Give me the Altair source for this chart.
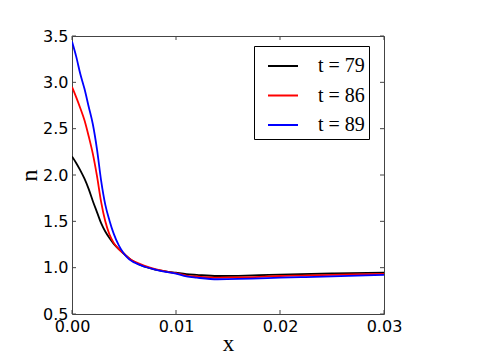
import altair as alt
import pandas as pd

# ---- data ----
x_79 = [0.0000, 0.0004, 0.0008, 0.0012, 0.0016, 0.0020, 0.0024, 0.0028, 0.0032, 0.0036,
        0.0040, 0.0045, 0.0050, 0.0055, 0.0060, 0.0070, 0.0080, 0.0090, 0.0100, 0.0110,
        0.0120, 0.0140, 0.0160, 0.0180, 0.0200, 0.0220, 0.0250, 0.0300]
n_79 = [2.20, 2.13, 2.05, 1.96, 1.85, 1.72, 1.60, 1.48, 1.39, 1.32,
        1.26, 1.20, 1.15, 1.10, 1.06, 1.01, 0.98, 0.96, 0.945, 0.93,
        0.922, 0.91, 0.912, 0.918, 0.925, 0.93, 0.937, 0.947]

x_86 = x_79
n_86 = [2.95, 2.84, 2.72, 2.59, 2.42, 2.23, 1.99, 1.71, 1.50, 1.36,
        1.27, 1.20, 1.15, 1.10, 1.065, 1.02, 0.985, 0.96, 0.94, 0.915,
        0.905, 0.893, 0.895, 0.90, 0.91, 0.915, 0.922, 0.933]

x_89 = x_79
n_89 = [3.44, 3.28, 3.09, 2.93, 2.74, 2.55, 2.28, 1.94, 1.68, 1.51,
        1.37, 1.24, 1.15, 1.09, 1.055, 1.01, 0.98, 0.955, 0.935, 0.905,
        0.892, 0.875, 0.878, 0.885, 0.892, 0.897, 0.905, 0.922]

series_names = ["t = 79", "t = 86", "t = 89"]
series_colors = ["black", "red", "blue"]

x_ticks = [0.0, 0.01, 0.02, 0.03]
y_ticks = [0.5, 1.0, 1.5, 2.0, 2.5, 3.0, 3.5]

W, H = 312, 278

rows = []
for name, xs, ns in zip(series_names, [x_79, x_86, x_89], [n_79, n_86, n_89]):
    for i, (xv, nv) in enumerate(zip(xs, ns)):
        rows.append({"series": name, "x": xv, "n": nv, "order": i})
df = pd.DataFrame(rows)

xscale = alt.Scale(domain=[0, 0.03], nice=False, zero=False)
yscale = alt.Scale(domain=[0.5, 3.5], nice=False, zero=False)

xaxis = alt.Axis(values=x_ticks, format=".2f", title="x", ticks=False, domain=False,
                 grid=False, labelFont="DejaVu Sans", labelFontSize=16, labelFlush=False,
                 labelColor="black", labelPadding=4,
                 titleFont="Liberation Serif", titleFontSize=23,
                 titleFontWeight="normal", titleColor="black",
                 titleBaseline="alphabetic", titleY=36)
yaxis = alt.Axis(values=y_ticks, format=".1f", title="n", ticks=False, domain=False,
                 grid=False, labelFont="DejaVu Sans", labelFontSize=16, labelFlush=False,
                 labelColor="black", labelPadding=4,
                 titleFont="Liberation Serif", titleFontSize=24,
                 titleFontWeight="normal", titleColor="black", titlePadding=1)

lines = alt.Chart(df).mark_line(strokeWidth=1.8, interpolate="monotone", clip=True).encode(
    x=alt.X("x:Q", scale=xscale, axis=xaxis, title="x"),
    y=alt.Y("n:Q", scale=yscale, axis=yaxis, title="n"),
    color=alt.Color("series:N", scale=alt.Scale(domain=series_names, range=series_colors),
                    legend=alt.Legend(title=None, orient="none", legendX=182, legendY=10,
                                      symbolType="stroke", symbolSize=900,
                                      symbolStrokeWidth=2, symbolOffset=9,
                                      labelFont="Liberation Serif",
                                      labelFontSize=20, labelColor="black", labelOffset=19,
                                      labelExpr="datum.label + '    '",
                                      rowPadding=3.5, padding=4, strokeColor="black",
                                      fillColor="white")),
    order="order:Q",
)

xt = pd.DataFrame({"v": x_ticks})
yt = pd.DataFrame({"v": y_ticks})
tick_color = "#444"

xb = alt.Chart(xt).mark_rule(color=tick_color).encode(
    x=alt.X("v:Q", scale=xscale, axis=xaxis, title="x"), y=alt.value(H), y2=alt.value(H - 4))
xtop = alt.Chart(xt).mark_rule(color=tick_color).encode(
    x=alt.X("v:Q", scale=xscale, axis=xaxis, title="x"), y=alt.value(0), y2=alt.value(4))
yl = alt.Chart(yt).mark_rule(color=tick_color).encode(
    y=alt.Y("v:Q", scale=yscale, axis=yaxis, title="n"), x=alt.value(0), x2=alt.value(4))
yr = alt.Chart(yt).mark_rule(color=tick_color).encode(
    y=alt.Y("v:Q", scale=yscale, axis=yaxis, title="n"), x=alt.value(W), x2=alt.value(W - 4))

chart = alt.layer(lines, xb, xtop, yl, yr).properties(
    width=W, height=H,
    autosize=alt.AutoSizeParams(type="none"),
    padding={"left": 64, "top": 28, "right": 88, "bottom": 38},
).configure_view(stroke="#444", strokeWidth=1)

chart.save("out.html", embed_options={"renderer": "svg", "actions": False})
